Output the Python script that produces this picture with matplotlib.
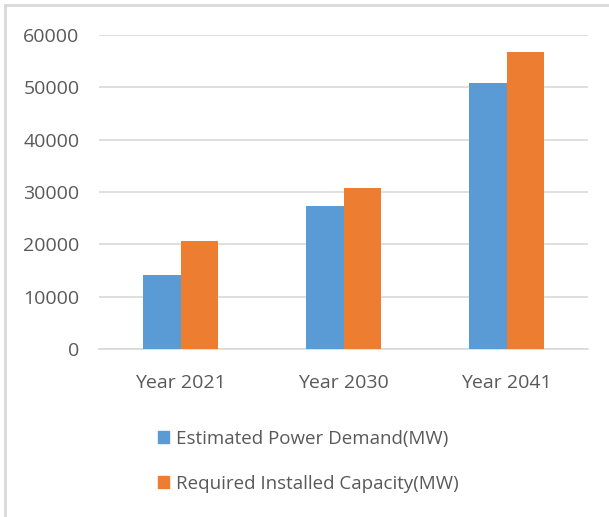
import numpy as np
import matplotlib
matplotlib.use("Agg")
import matplotlib.pyplot as plt
from matplotlib.lines import Line2D
from matplotlib.patches import Patch

years = ["Year 2021", "Year 2030", "Year 2041"]
demand = [14150, 27250, 50900]
capacity = [20700, 30750, 56850]
series_names = ["Estimated Power Demand(MW)", "Required Installed Capacity(MW)"]

blue = "#5b9bd5"
orange = "#ed7d31"
txt = "#595959"

plt.rcParams['font.family'] = ['Open Sans', 'DejaVu Sans']

fig = plt.figure(figsize=(6.09, 5.17), dpi=100)
ax = fig.add_axes([0.1626, 0.325, 0.803, 0.607])

x = np.arange(len(years))
w = 0.23
ax.bar(x - w / 2, demand, w, color=blue, zorder=3)
ax.bar(x + w / 2, capacity, w, color=orange, zorder=3)

ax.set_xlim(-0.5, 2.5)
ax.set_ylim(0, 60000)
ax.set_yticks(range(0, 60001, 10000))
ax.yaxis.grid(True, color="#d9d9d9", linewidth=1.2, zorder=0)
ax.set_xticks(x)
ax.set_xticklabels(years)
ax.tick_params(axis="both", length=0, colors=txt)
ax.tick_params(axis="y", labelsize=14, pad=14)
ax.tick_params(axis="x", labelsize=14, pad=18)
for s in ["top", "right", "left"]:
    ax.spines[s].set_visible(False)
ax.spines["bottom"].set_color("#d9d9d9")
ax.spines["bottom"].set_linewidth(1.2)

handles = [Patch(color=blue), Patch(color=orange)]
fig.legend(handles, series_names, loc="upper left", bbox_to_anchor=(0.244, 0.187),
           frameon=False, fontsize=13.5, labelcolor=txt, handlelength=0.6,
           handleheight=0.6, handletextpad=0.35, labelspacing=1.45, borderpad=0)

# light frame on the top and left edges
fig.add_artist(Line2D([0.009, 0.009], [0, 0.99], transform=fig.transFigure, color="#d9d9d9", linewidth=2))
fig.add_artist(Line2D([0.009, 1.0], [0.99, 0.99], transform=fig.transFigure, color="#d9d9d9", linewidth=2))

fig.savefig("out.png", dpi=100, facecolor="white")
